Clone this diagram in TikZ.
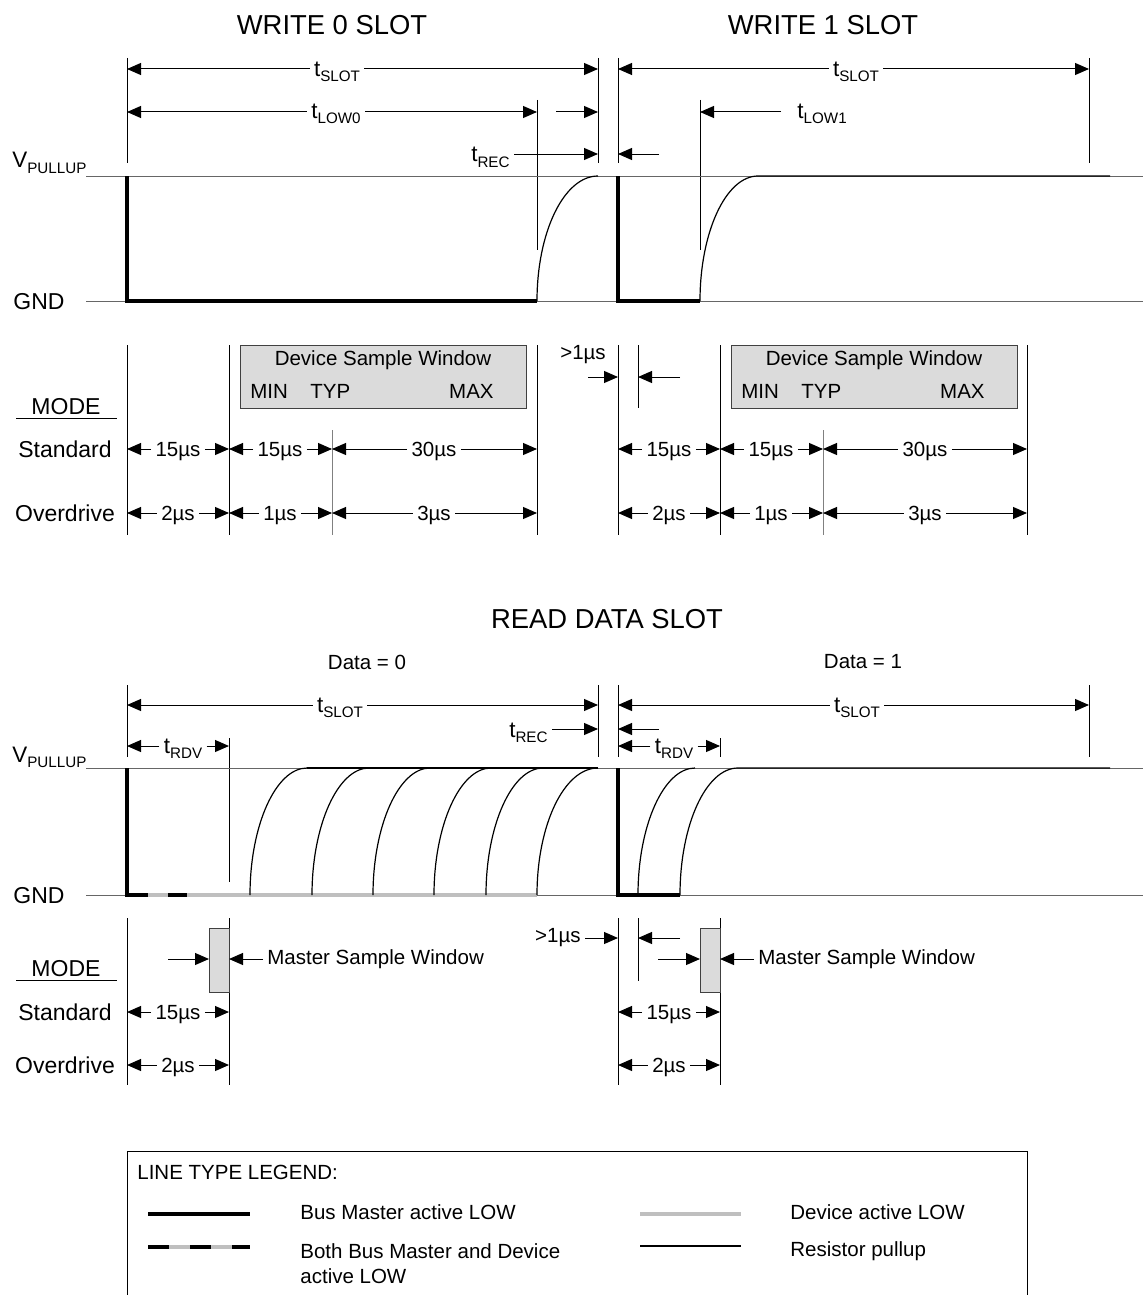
\documentclass[tikz,border=0pt]{standalone}
\usepackage{fontspec}
\setmainfont{Liberation Sans}
\usetikzlibrary{arrows.meta, positioning}

% letter with a lowered small index, as in t_SLOT
\newcommand{\lowsub}[2]{{\fontsize{11.2}{13}\selectfont #1}\raisebox{-2.5pt}{\fontsize{7.6}{8}\selectfont #2}}
% dimension row: name, left x, right x, y, label x, label
\newcommand{\dimrow}[6]{%
  \coordinate (#1L) at (#2,#4);
  \coordinate (#1R) at (#3,#4);
  \node[lab, anchor=base] (#1) at (#5,#4+7) {#6};
  \draw[dimarrow] (#1.west |- #1L) -- (#1L);
  \draw[dimarrow] (#1.east |- #1R) -- (#1R);
}

\begin{document}
\begin{tikzpicture}[x=0.5pt, y=-0.5pt,
    lab/.style={font=\fontsize{10.25}{12}\selectfont, inner xsep=2pt, inner ysep=1pt},
    modelab/.style={font=\fontsize{11.5}{13}\selectfont, inner sep=0pt},
    slottitle/.style={font=\fontsize{13.7}{16}\selectfont, inner sep=0pt},
    dimarrow/.style={-{Triangle[length=7pt, width=6pt]}, line width=0.5pt},
    extline/.style={line width=0.5pt},
    typline/.style={line width=0.5pt, black!50},
    rail/.style={line width=0.5pt, black!60},
    master/.style={line width=2pt, line join=miter},
    device/.style={line width=1.75pt, black!25},
    pullup/.style={line width=0.6pt},
    window/.style={draw=black!75, fill=black!14, line width=0.5pt}]
    \useasboundingbox (0,0) rectangle (1143,1295);

    % Write slot titles
    \node[slottitle] (wzero) at (332,25) {WRITE 0 SLOT};
    \node[slottitle] (wone) at (823,25) {WRITE 1 SLOT};

    % Write slot timing
    \foreach \x in {127,598,618,1089} \draw[extline] (\x,58) -- (\x,163);
    \draw[extline] (537,100) -- (537,250);
    \draw[extline] (700,100) -- (700,250);
    \dimrow{slotA}{127}{598}{69}{337}{\lowsub{t}{SLOT}}
    \dimrow{slotB}{618}{1089}{69}{856}{\lowsub{t}{SLOT}}
    \dimrow{lowA}{127}{537}{112}{336}{\lowsub{t}{LOW0}}
    \coordinate (lowAa) at (556,112);
    \coordinate (lowAb) at (598,112);
    \draw[dimarrow] (lowAa) -- (lowAb);
    \node[lab, anchor=base east] (recA) at (514,162) {\lowsub{t}{REC}};
    \coordinate (recAend) at (598,154);
    \draw[dimarrow] (recA.east |- recAend) -- (recAend);
    \coordinate (recAb) at (659,154);
    \coordinate (recAc) at (618,154);
    \draw[dimarrow] (recAb) -- (recAc);
    \node[lab, anchor=base west] (lowB) at (793,119) {\lowsub{t}{LOW1}};
    \coordinate (lowBa) at (781,112);
    \coordinate (lowBb) at (700,112);
    \draw[dimarrow] (lowBa) -- (lowBb);

    % Write slot levels
    \node[modelab, anchor=base west] (vpA) at (12,168) {\lowsub{V}{PULLUP}};
    \node[modelab, anchor=base west] (gndA) at (13,309) {GND};
    \draw[rail] (86,176) -- (1143,176);
    \draw[rail] (86,301) -- (1143,301);
    \draw[master] (127,176) -- (127,301) -- (537,301);
    \draw[pullup] (537,301) .. controls (537,232) and (564,176) .. (598,176);
    \draw[master] (618,176) -- (618,301) -- (700,301);
    \draw[pullup] (700,301) .. controls (700,232) and (726,176) .. (758,176) -- (1110,176);

    % Device sample windows
    \foreach \x in {127,229,537,618,720,1027} \draw[extline] (\x,345) -- (\x,535);
    \foreach \x in {332,823} \draw[typline] (\x,430) -- (\x,535);
    \draw[extline] (638,345) -- (638,408);
    \draw[window] (240,345) rectangle (526,408);
    \draw[window] (731,345) rectangle (1017,408);
    \node[lab] (dswA) at (383,360) {Device Sample Window};
    \node[lab, anchor=west] (minA) at (246,391) {MIN};
    \node[lab, anchor=west] (typA) at (306,391) {TYP};
    \node[lab, anchor=east] (maxA) at (498,391) {MAX};
    \node[lab] (dswB) at (874,360) {Device Sample Window};
    \node[lab, anchor=west] (minB) at (737,391) {MIN};
    \node[lab, anchor=west] (typB) at (797,391) {TYP};
    \node[lab, anchor=east] (maxB) at (989,391) {MAX};
    \node[lab] (gapA) at (583,355) {>1µs};
    \coordinate (gapAa) at (588,377);
    \coordinate (gapAb) at (618,377);
    \coordinate (gapAc) at (680,377);
    \coordinate (gapAd) at (638,377);
    \draw[dimarrow] (gapAa) -- (gapAb);
    \draw[dimarrow] (gapAc) -- (gapAd);

    % Write slot modes
    \node[modelab] (modeA) at (66,407) {MODE};
    \draw[extline] (16,418) -- (117,418);
    \node[modelab] (stdA) at (65,449) {Standard};
    \node[modelab] (odA) at (65,513) {Overdrive};
    \dimrow{sA1}{127}{229}{449}{178}{15µs}
    \dimrow{sA2}{229}{332}{449}{280}{15µs}
    \dimrow{sA3}{332}{537}{449}{434}{30µs}
    \dimrow{oA1}{127}{229}{513}{178}{2µs}
    \dimrow{oA2}{229}{332}{513}{280}{1µs}
    \dimrow{oA3}{332}{537}{513}{434}{3µs}
    \dimrow{sB1}{618}{720}{449}{669}{15µs}
    \dimrow{sB2}{720}{823}{449}{771}{15µs}
    \dimrow{sB3}{823}{1027}{449}{925}{30µs}
    \dimrow{oB1}{618}{720}{513}{669}{2µs}
    \dimrow{oB2}{720}{823}{513}{771}{1µs}
    \dimrow{oB3}{823}{1027}{513}{925}{3µs}

    % Read slot titles
    \node[slottitle] (rdtitle) at (607,619) {READ DATA SLOT};
    \node[lab] (dzero) at (367,662) {Data = 0};
    \node[lab] (done) at (863,662) {Data = 1};

    % Read slot timing
    \foreach \x in {127,598,618,1089} \draw[extline] (\x,685) -- (\x,757);
    \draw[extline] (229,738) -- (229,882);
    \draw[extline] (720,738) -- (720,757);
    \dimrow{slotC}{127}{598}{705}{340}{\lowsub{t}{SLOT}}
    \dimrow{slotD}{618}{1089}{705}{857}{\lowsub{t}{SLOT}}
    \dimrow{rdvA}{127}{229}{746}{183}{\lowsub{t}{RDV}}
    \dimrow{rdvB}{618}{720}{746}{674}{\lowsub{t}{RDV}}
    \node[lab, anchor=base east] (recC) at (552,737) {\lowsub{t}{REC}};
    \coordinate (recCend) at (598,729);
    \draw[dimarrow] (recC.east |- recCend) -- (recCend);
    \coordinate (recCb) at (659,729);
    \coordinate (recCc) at (618,729);
    \draw[dimarrow] (recCb) -- (recCc);

    % Read slot levels
    \node[modelab, anchor=base west] (vpC) at (12,762) {\lowsub{V}{PULLUP}};
    \node[modelab, anchor=base west] (gndC) at (13,903) {GND};
    \draw[rail] (86,768) -- (1143,768);
    \draw[rail] (86,895) -- (1143,895);
    \draw[device] (127,895) -- (537,895);
    \draw[master] (127,768) -- (127,895) -- (148,895);
    \draw[master] (168,895) -- (187,895);
    \foreach \x in {250,312,373,434,486}
        \draw[pullup] (\x,895) .. controls (\x,825) and (\x+26,768) .. (\x+57,768);
    \draw[pullup] (537,895) .. controls (537,825) and (564,768) .. (598,768);
    \draw[pullup] (307,768) -- (598,768);
    \draw[master] (618,768) -- (618,895) -- (680,895);
    \draw[pullup] (638,895) .. controls (638,825) and (664,768) .. (695,768);
    \draw[pullup] (680,895) .. controls (680,825) and (706,768) .. (738,768) -- (1110,768);

    % Master sample windows
    \foreach \x in {127,229,618,720} \draw[extline] (\x,918) -- (\x,1085);
    \draw[extline] (638,918) -- (638,981);
    \draw[window] (209,928) rectangle (229,992);
    \draw[window] (700,928) rectangle (720,992);
    \coordinate (mswAa) at (168,959);
    \coordinate (mswAb) at (209,959);
    \coordinate (mswAc) at (229,959);
    \node[lab, anchor=west] (mswA) at (263,959) {Master Sample Window};
    \draw[dimarrow] (mswAa) -- (mswAb);
    \draw[dimarrow] (mswA.west) -- (mswAc);
    \coordinate (mswBa) at (658,959);
    \coordinate (mswBb) at (700,959);
    \coordinate (mswBc) at (720,959);
    \node[lab, anchor=west] (mswB) at (754,959) {Master Sample Window};
    \draw[dimarrow] (mswBa) -- (mswBb);
    \draw[dimarrow] (mswB.west) -- (mswBc);
    \node[lab, anchor=east] (gapC) at (585,938) {>1µs};
    \coordinate (gapCb) at (618,938);
    \coordinate (gapCc) at (680,938);
    \coordinate (gapCd) at (638,938);
    \draw[dimarrow] (gapC.east) -- (gapCb);
    \draw[dimarrow] (gapCc) -- (gapCd);

    % Read slot modes
    \node[modelab] (modeC) at (66,969) {MODE};
    \draw[extline] (16,980) -- (117,980);
    \node[modelab] (stdC) at (65,1012) {Standard};
    \node[modelab] (odC) at (65,1065) {Overdrive};
    \dimrow{sC1}{127}{229}{1012}{178}{15µs}
    \dimrow{oC1}{127}{229}{1065}{178}{2µs}
    \dimrow{sD1}{618}{720}{1012}{669}{15µs}
    \dimrow{oD1}{618}{720}{1065}{669}{2µs}

    % Legend
    \draw[extline] (127,1296) -- (127,1151) -- (1027,1151) -- (1027,1296);
    \node[lab, anchor=west, inner xsep=0pt] (legtitle) at (137,1172) {LINE TYPE LEGEND:};
    \draw[master] (148,1214) -- (250,1214);
    \draw[device] (148,1247) -- (250,1247);
    \draw[master, dash pattern=on 10.5pt off 10.5pt] (148,1247) -- (250,1247);
    \draw[device] (640,1214) -- (741,1214);
    \draw[pullup] (640,1246) -- (741,1246);
    \node[lab, anchor=west, inner xsep=0pt] (legmaster) at (300,1212) {Bus Master active LOW};
    \node[lab, anchor=west, inner xsep=0pt] (legboth) at (300,1251) {Both Bus Master and Device};
    \node[lab, anchor=west, inner xsep=0pt] (legbothb) at (300,1276) {active LOW};
    \node[lab, anchor=west, inner xsep=0pt] (legdevice) at (790,1212) {Device active LOW};
    \node[lab, anchor=west, inner xsep=0pt] (legpullup) at (790,1251) {Resistor pullup};
\end{tikzpicture}
\end{document}
